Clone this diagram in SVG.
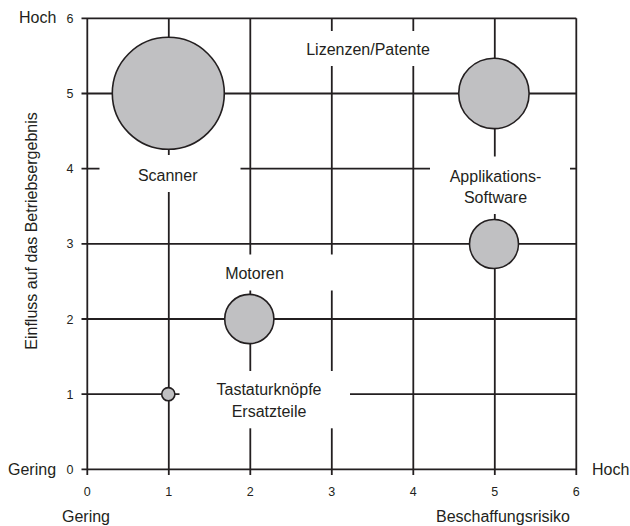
<svg xmlns="http://www.w3.org/2000/svg" width="630" height="526" viewBox="0 0 630 526">
<style>
  .g { stroke: #231f20; stroke-width: 1.8; fill: none; }
  .b { fill: #c0c0c2; stroke: #231f20; stroke-width: 1.6; }
  .w { fill: #ffffff; stroke: none; }
  .t { font-family: "Liberation Sans", Arial, sans-serif; font-size: 16px; fill: #231f20; }
  .n { font-family: "Liberation Sans", Arial, sans-serif; font-size: 12.5px; fill: #231f20; }
  .c { text-anchor: middle; }
</style>
<rect x="0" y="0" width="630" height="526" fill="#ffffff"/>
<g id="grid">
  <line class="g" x1="81.5" y1="18.3" x2="576.3" y2="18.3"/>
  <line class="g" x1="81.5" y1="93.5" x2="576.3" y2="93.5"/>
  <line class="g" x1="81.5" y1="168.7" x2="576.3" y2="168.7"/>
  <line class="g" x1="81.5" y1="243.8" x2="576.3" y2="243.8"/>
  <line class="g" x1="81.5" y1="319" x2="576.3" y2="319"/>
  <line class="g" x1="81.5" y1="394.2" x2="576.3" y2="394.2"/>
  <line class="g" x1="81.5" y1="469.3" x2="576.3" y2="469.3"/>
  <line class="g" x1="87.3" y1="18.3" x2="87.3" y2="475"/>
  <line class="g" x1="168.8" y1="18.3" x2="168.8" y2="475"/>
  <line class="g" x1="250.3" y1="18.3" x2="250.3" y2="475"/>
  <line class="g" x1="331.8" y1="18.3" x2="331.8" y2="475"/>
  <line class="g" x1="413.3" y1="18.3" x2="413.3" y2="475"/>
  <line class="g" x1="494.8" y1="18.3" x2="494.8" y2="475"/>
  <line class="g" x1="576.3" y1="18.3" x2="576.3" y2="475"/>
</g>
<g id="axes-labels">
  <text class="n c" x="70" y="23">6</text>
  <text class="n c" x="70" y="98">5</text>
  <text class="n c" x="70" y="173.2">4</text>
  <text class="n c" x="70" y="248.3">3</text>
  <text class="n c" x="70" y="323.5">2</text>
  <text class="n c" x="70" y="398.7">1</text>
  <text class="n c" x="70" y="473.8">0</text>
  <text class="n c" x="87.3" y="496">0</text>
  <text class="n c" x="168.8" y="496">1</text>
  <text class="n c" x="250.3" y="496">2</text>
  <text class="n c" x="331.8" y="496">3</text>
  <text class="n c" x="413.3" y="496">4</text>
  <text class="n c" x="494.8" y="496">5</text>
  <text class="n c" x="576.3" y="496">6</text>
  <text class="t" x="19" y="23">Hoch</text>
  <text class="t" x="8" y="474.5">Gering</text>
  <text class="t c" x="86" y="522">Gering</text>
  <text class="t c" x="503" y="522">Beschaffungsrisiko</text>
  <text class="t" x="592" y="475">Hoch</text>
  <text class="t c" transform="translate(36.5,231) rotate(-90)" x="0" y="0">Einfluss auf das Betriebsergebnis</text>
</g>
<g id="scanner">
  <circle class="b" cx="168.3" cy="93.3" r="56"/>
  <rect class="w" x="99.5" y="155" width="141" height="37"/>
  <text class="t c" x="167.7" y="181">Scanner</text>
</g>
<g id="lizenzen">
  <circle class="b" cx="493.9" cy="93.4" r="35.2"/>
  <rect class="w" x="300" y="31" width="137" height="35"/>
  <text class="t c" x="368" y="55">Lizenzen/Patente</text>
</g>
<g id="applikations-software">
  <circle class="b" cx="494" cy="244" r="24.5"/>
  <rect class="w" x="430" y="156.5" width="140" height="57.5"/>
  <text class="t c" x="495.5" y="181.7">Applikations-</text>
  <text class="t c" x="495.5" y="203.3">Software</text>
</g>
<g id="motoren">
  <circle class="b" cx="249.3" cy="319" r="24.6"/>
  <rect class="w" x="200" y="254.5" width="140" height="36"/>
  <text class="t c" x="254.5" y="279.3">Motoren</text>
</g>
<g id="tastaturknoepfe-ersatzteile">
  <circle class="b" cx="168.3" cy="394.2" r="6.6"/>
  <rect class="w" x="179.5" y="371" width="170.5" height="57.3"/>
  <text class="t c" x="269" y="395">Tastaturknöpfe</text>
  <text class="t c" x="269" y="417.3">Ersatzteile</text>
</g>
</svg>
